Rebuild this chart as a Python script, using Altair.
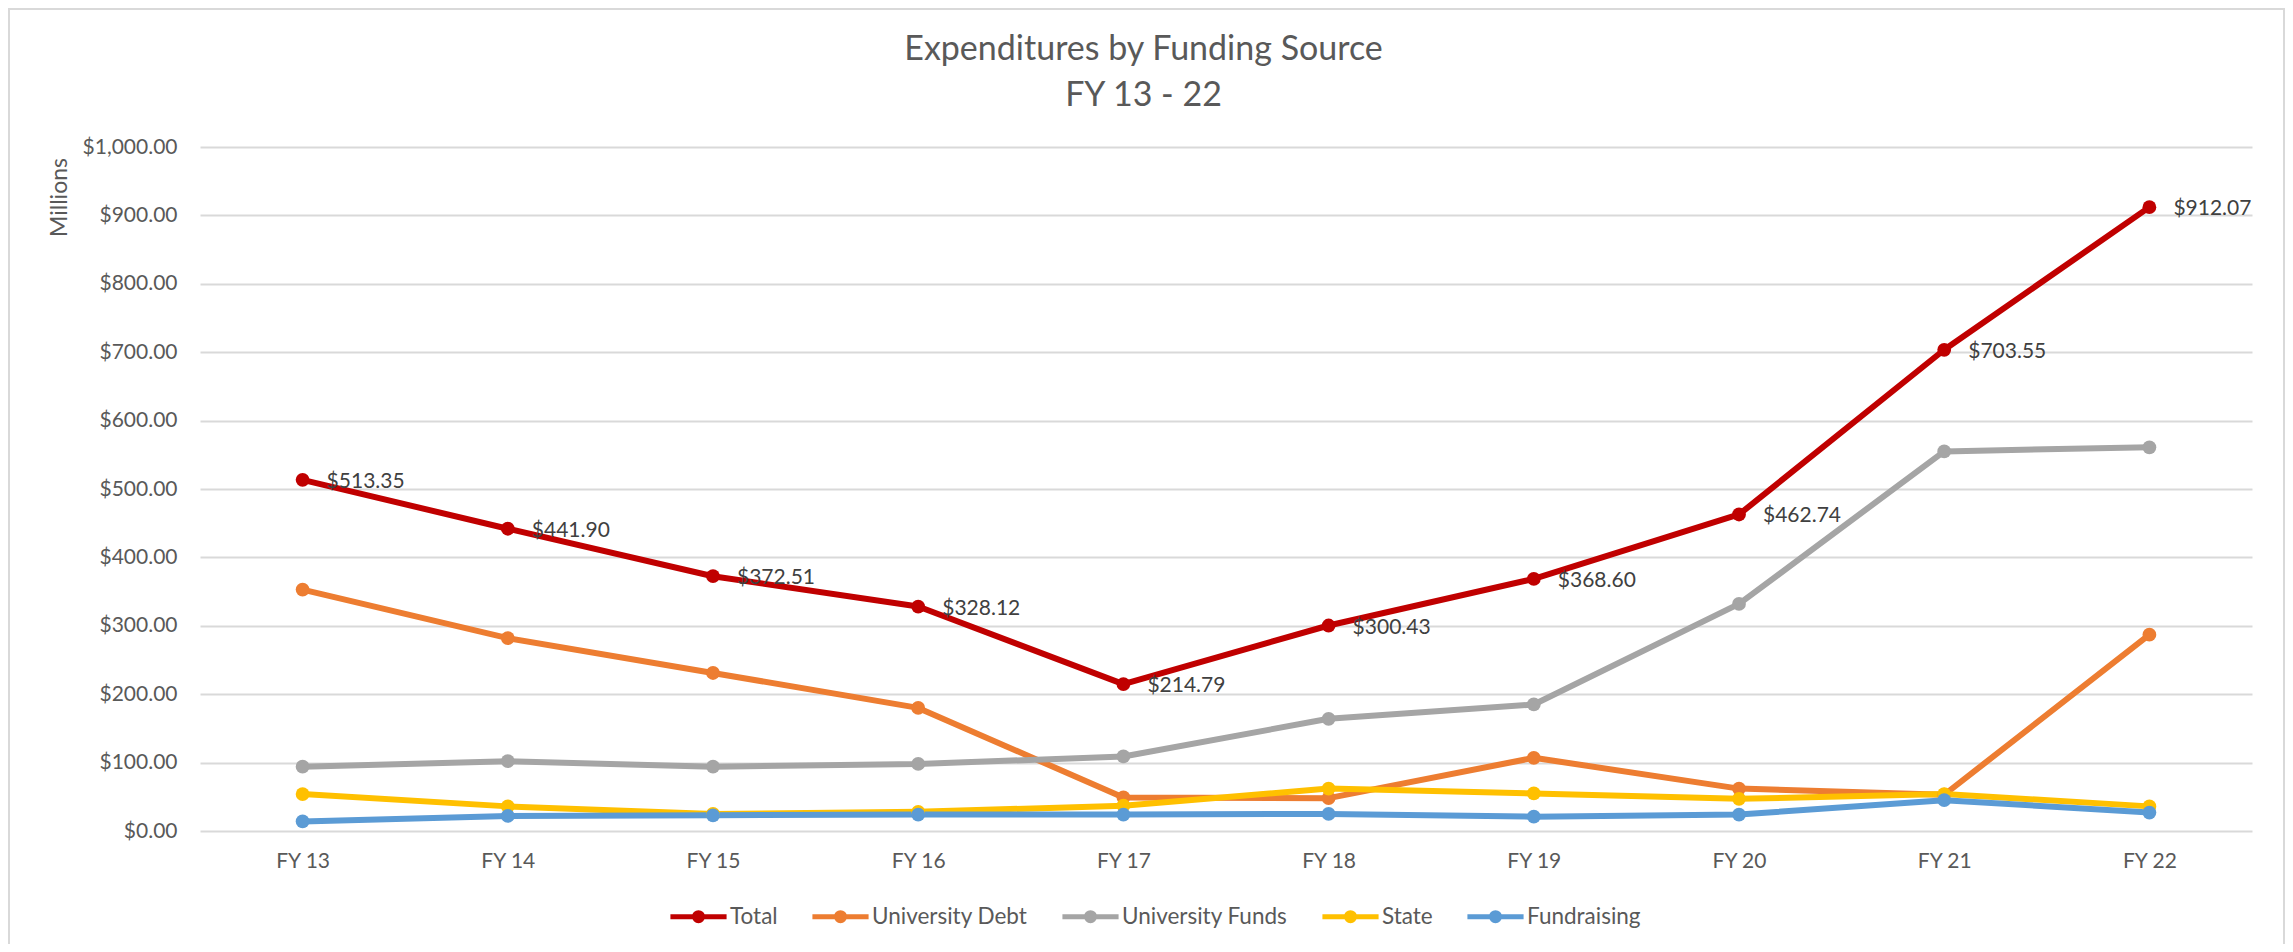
import altair as alt
import pandas as pd

# ---- data ----
fiscal_years = ["FY 13", "FY 14", "FY 15", "FY 16", "FY 17", "FY 18", "FY 19", "FY 20", "FY 21", "FY 22"]
series_names = ["Total", "University Debt", "University Funds", "State", "Fundraising"]
series_colors = ["#C00000", "#ED7D31", "#A5A5A5", "#FFC000", "#5B9BD5"]

total = [513.35, 441.90, 372.51, 328.12, 214.79, 300.43, 368.60, 462.74, 703.55, 912.07]
university_debt = [353, 282, 231, 180, 49, 48, 107, 62, 53, 287]
university_funds = [94, 102, 94, 98, 109, 164, 185, 332, 555, 561]
state = [54, 36, 25, 28, 37, 62, 55, 47, 54, 36]
fundraising = [14, 22, 23, 24, 24, 25, 21, 24, 45, 27]

y_ticks = [0, 100, 200, 300, 400, 500, 600, 700, 800, 900, 1000]
title_lines = ["Expenditures by Funding Source", "FY 13 - 22"]
y_title = "Millions"

values_by_series = [total, university_debt, university_funds, state, fundraising]
rows = []
for name, vals in zip(series_names, values_by_series):
    for fy, v in zip(fiscal_years, vals):
        rows.append({"FY": fy, "Series": name, "Value": v})
df = pd.DataFrame(rows)

FONT = "Lato"
W, H = 2052, 684

# line with a dot, drawn by stroking (works whether the legend fills or strokes)
legend_symbol = (
    "M-1.08,0 L1.08,0 "
    "M-0.155,0 A0.155,0.155 0 1,1 0.155,0 A0.155,0.155 0 1,1 -0.155,0 Z "
    "M-0.06,0 A0.06,0.06 0 1,1 0.06,0 A0.06,0.06 0 1,1 -0.06,0 Z"
)

legend_spec = alt.Legend(
    title=None,
    orient="none",
    direction="horizontal",
    legendX=470,
    legendY=741,
    symbolType=legend_symbol,
    symbolSize=2704,
    symbolStrokeWidth=5,
    labelOffset=3,
    columnPadding=24,
    labelFontSize=22.5,
    labelFont=FONT,
    labelColor="#595959",
    labelLimit=600,
    padding=0,
)

x_enc = alt.X(
    "FY:O",
    sort=fiscal_years,
    title=None,
    axis=alt.Axis(labelAngle=0, labelPadding=19, ticks=False, tickSize=0, domain=False, grid=False),
)
y_enc = alt.Y(
    "Value:Q",
    scale=alt.Scale(domain=[0, 1000], nice=False),
    axis=alt.Axis(
        values=y_ticks,
        format="$,.2f",
        title=y_title,
        titleAngle=270,
        titleX=-141,
        titleY=50,
        titleAlign="center",
        titleBaseline="middle",
        titleFontSize=23,
        titleFontWeight="normal",
        titleColor="#595959",
        titleFont=FONT,
        labelPadding=23,
        ticks=False,
        tickSize=0,
        domain=False,
        grid=True,
        gridColor="#D9D9D9",
        gridWidth=2,
    ),
)
color_enc = alt.Color("Series:N", scale=alt.Scale(domain=series_names, range=series_colors),
                      sort=series_names, legend=legend_spec)

base = alt.Chart(df)

lines = base.mark_line(strokeWidth=6, strokeCap="round", strokeJoin="round").encode(
    x=x_enc, y=y_enc, color=color_enc,
)

points = base.mark_point(filled=True, size=190, opacity=1, strokeWidth=0).encode(
    x=x_enc, y=y_enc, color=color_enc,
)

labels = base.transform_filter(alt.datum.Series == "Total").mark_text(
    align="left", baseline="middle", dx=24, dy=2, fontSize=21, font=FONT, color="#404040"
).encode(
    x=x_enc,
    y=y_enc,
    text=alt.Text("Value:Q", format="$,.2f"),
)

one_row = pd.DataFrame({"k": [0]})
title_mark = alt.Chart(one_row).mark_text(
    text=title_lines,
    lineHeight=46,
    align="center",
    baseline="middle",
    fontSize=34,
    font=FONT,
    color="#595959",
).encode(x=alt.value(943.5), y=alt.value(-97))

border = alt.Chart(one_row).mark_rect(
    fillOpacity=0, stroke="#D9D9D9", strokeWidth=2
).encode(
    x=alt.value(-191), x2=alt.value(W + 32), y=alt.value(-138), y2=alt.value(H + 130)
)

chart = alt.layer(border, title_mark, lines, points, labels).properties(
    width=W,
    height=H,
    autosize=alt.AutoSizeParams(type="none"),
    padding={"left": 192, "top": 139, "right": 33, "bottom": 113},
    background="white",
).configure_view(strokeWidth=0).configure_axis(
    labelFont=FONT, labelFontSize=21, labelColor="#595959"
)

chart.save("out.html", embed_options={"renderer": "svg", "actions": False})
